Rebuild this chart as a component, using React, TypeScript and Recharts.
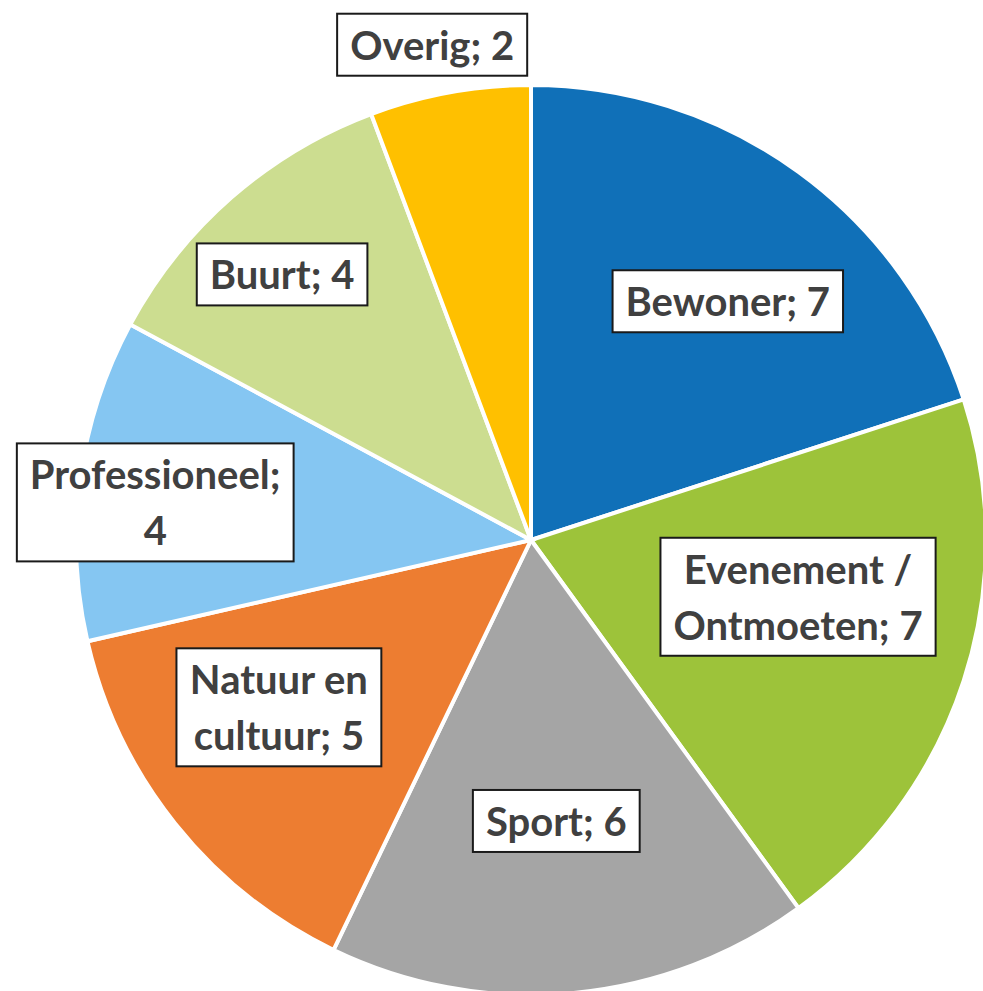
import React from "react";
import { PieChart, Pie, Cell } from "recharts";

const categories = [
  "Bewoner",
  "Evenement / Ontmoeten",
  "Sport",
  "Natuur en cultuur",
  "Professioneel",
  "Buurt",
  "Overig",
];
const counts = [7, 7, 6, 5, 4, 4, 2];
const colors = ["#1070B8", "#9DC33A", "#A5A5A5", "#ED7D31", "#85C6F2", "#CCDD90", "#FFC000"];

// words on the first label line (rest goes to line two)
const firstLineWords = [99, 2, 99, 2, 1, 99, 99];
// label placement: fraction of radius, angle nudge in degrees
const labelRadius = [0.68, 0.6, 0.62, 0.665, 0.83, 0.8, 1.11];
const labelNudge = [-3.5, 6, 0, -5, 2, 2, 1];

const data = categories.map((name, i) => ({ name, value: counts[i] }));

const FONT_SIZE = 40;
const FONT = `bold ${FONT_SIZE}px Lato, "Open Sans", sans-serif`;
const LINE_H = 56;
const RAD = Math.PI / 180;

let ctx: CanvasRenderingContext2D | null = null;
function measure(t: string) {
  if (!ctx) ctx = document.createElement("canvas").getContext("2d");
  if (!ctx) return t.length * FONT_SIZE * 0.5;
  ctx.font = FONT;
  return ctx.measureText(t).width;
}

function renderLabel(props: any) {
  const { cx, cy, midAngle, outerRadius, index, name, value } = props;
  const ang = (midAngle + labelNudge[index]) * RAD;
  const r = outerRadius * labelRadius[index];
  const x = cx + r * Math.cos(ang);
  const y = cy - r * Math.sin(ang);

  const words = `${name}; ${value}`.split(" ");
  const k = firstLineWords[index];
  const lines = [words.slice(0, k).join(" "), words.slice(k).join(" ")].filter((l) => l.length);

  const w = Math.max(...lines.map(measure)) + 26;
  const h = lines.length * LINE_H + 6;

  return (
    <g key={`lbl-${index}`}>
      <rect
        x={x - w / 2}
        y={y - h / 2}
        width={w}
        height={h}
        fill="#ffffff"
        stroke="#1a1a1a"
        strokeWidth={2}
      />
      {lines.map((line, j) => (
        <text
          key={j}
          x={x}
          y={y - h / 2 + 3 + LINE_H * j + LINE_H / 2}
          textAnchor="middle"
          dominantBaseline="central"
          fill="#404040"
          style={{ font: FONT }}
        >
          {line}
        </text>
      ))}
    </g>
  );
}

export default function App() {
  return (
    <div style={{ position: "absolute", left: 0, top: 0, width: 983, height: 991, background: "#fff" }}>
      <PieChart width={983} height={991} margin={{ top: 0, right: 0, bottom: 0, left: 0 }}>
        <Pie
          data={data}
          dataKey="value"
          nameKey="name"
          cx={531}
          cy={540}
          outerRadius={455}
          startAngle={90}
          endAngle={-270}
          stroke="#ffffff"
          strokeWidth={4}
          label={renderLabel}
          labelLine={false}
          isAnimationActive={false}
        >
          {data.map((d, i) => (
            <Cell key={d.name} fill={colors[i]} />
          ))}
        </Pie>
      </PieChart>
    </div>
  );
}
